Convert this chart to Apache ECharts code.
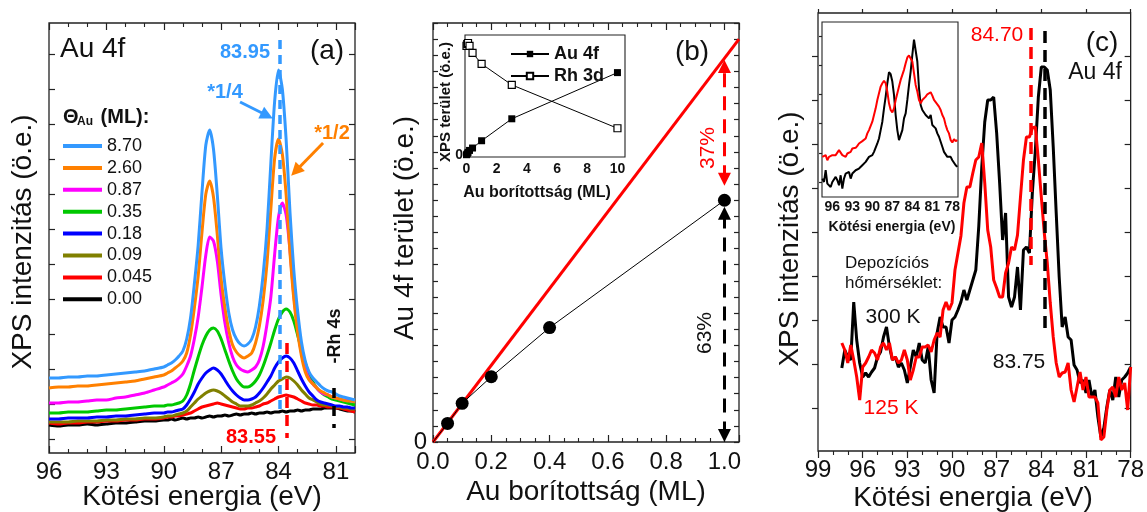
<!DOCTYPE html>
<html>
<head>
<meta charset="utf-8">
<script src="https://cdn.jsdelivr.net/npm/echarts@6/dist/echarts.min.js"></script>
<style>
  html, body { margin: 0; padding: 0; background: #fff; }
  #chart { width: 1147px; height: 512px; }
</style>
</head>
<body>
<div id="chart"></div>
<script>
// ---------- (a) Au 4f spectra for increasing Au coverage ----------
const energyA = [96,95.5,95,94.5,94,93.5,93,92.5,92,91.5,91,90.5,90,
  89.8,89.6,89.4,89.2,89,88.8,88.6,88.4,88.2,88,87.8,87.6,87.4,87.2,87,
  86.8,86.6,86.4,86.2,86,85.8,85.6,85.4,85.2,85,84.8,84.6,84.4,84.2,84,
  83.8,83.6,83.4,83.2,83,82.8,82.6,82.4,82.2,82,81.8,81.6,81.4,81.2,81,
  80.8,80.6,80.4,80.2,80];
const coverageLabels = ['8.70', '2.60', '0.87', '0.35', '0.18', '0.09', '0.045', '0.00'];
const coverageColors = ['#3399ff', '#ff8000', '#ff00ff', '#00c800', '#0000ff', '#808000', '#ff0000', '#000000'];
const spec870 = [75,75,76,76,77,77,78,79,80,81,82,84,86,
  88,90,93,97,102,114,135,169,208,261,308,323,304,258,204,
  168,140,123,114,109,107,109,114,126,147,179,224,290,352,383,
  364,313,241,183,142,111,92,81,75,71,67,64,62,61,59,57,56,55,54,53];
const spec260 = [65,66,66,67,67,68,69,70,71,72,74,76,78,
  80,82,85,88,92,100,118,145,177,221,259,272,256,218,174,
  145,123,108,101,97,95,97,100,110,127,153,190,244,295,314,
  299,258,200,154,121,97,81,73,69,65,62,60,58,56,55,54,53,52,52,51];
const spec087 = [50,50,51,51,52,53,53,55,56,58,60,63,66,
  68,70,72,75,79,87,97,114,136,166,198,216,212,192,158,
  130,110,96,88,84,82,81,83,86,93,107,129,156,199,236,
  250,238,203,158,125,100,84,74,69,65,61,59,58,56,55,54,53,53,52,52];
const spec035 = [40,40,41,41,41,42,43,43,44,45,46,47,47,
  48,48,49,50,52,58,69,83,96,108,117,123,125,122,114,
  103,92,82,74,69,66,66,68,72,78,87,98,110,123,134,
  141,144,141,132,118,103,90,79,71,65,61,58,56,54,53,52,51,50,49,48];
const spec018 = [34,34,35,35,35,36,36,37,37,38,39,40,40,
  41,41,42,43,44,48,54,61,69,75,80,83,85,83,79,
  73,67,62,58,55,53,53,54,56,60,65,71,77,85,91,
  95,97,95,90,82,74,67,61,57,53,51,50,49,48,47,47,46,46,45,45];
const spec009 = [31,31,31,32,32,32,33,33,34,34,35,35,36,
  37,37,38,39,40,42,46,50,54,57,60,62,63,62,60,
  57,54,51,49,47,47,47,48,50,52,55,59,64,68,72,
  74,76,75,72,68,63,59,55,53,51,49,48,48,47,46,46,45,45,44,44];
const spec0045 = [30,29,30,30,31,31,32,32,33,33,34,34,35,
  36,36,37,37,38,39,40,42,44,46,47,48,49,50,49,
  48,47,46,45,44,44,45,45,46,47,49,50,52,54,56,
  57,58,57,56,54,52,50,49,48,48,47,47,46,46,45,45,44,43,42,41];
const spec000 = [28,27,28,28,29,28,29,30,30,31,32,32,33,
  33,34,33,34,35,34,35,35,36,35,36,37,36,37,37,
  38,37,38,39,38,39,39,40,39,40,40,41,40,41,41,
  42,41,42,42,43,42,43,43,44,44,44,45,45,45,45,44,43,42,42,41];
const spectraA = [spec870, spec260, spec087, spec035, spec018, spec009, spec0045, spec000];

// ---------- (b) Au 4f area vs. coverage ----------
const coverageB = [0, 0.05, 0.1, 0.2, 0.4, 1.0];
const au4fArea = [0, 1.15, 2.4, 4.05, 7.1, 15.0];
const linearCoverage = [0, 1.05];
const linearArea = [0, 25.0];
const insetCoverage = [0, 0.05, 0.1, 0.2, 0.4, 1, 3, 10];
const insetAu4f = [0.0, 0.1, 0.23, 0.43, 0.67, 1.4, 3.6, 8.23];
const insetRh3d = [10.9, 11.1, 11.2, 10.9, 10.2, 9.1, 7.0, 2.65];
const insetTicksB = [0, 2, 4, 6, 8, 10];

// ---------- (c) deposition temperature ----------
const energyC = [97.4,97.2,97,96.8,96.6,96.4,96.2,96,95.8,95.6,95.4,95.2,95,94.8,94.6,94.4,94.2,94,
  93.8,93.6,93.4,93.2,93,92.8,92.6,92.4,92.2,92,91.8,91.6,91.4,91.2,91,90.8,90.6,90.4,90.2,90,
  89.8,89.6,89.4,89.2,89,88.8,88.6,88.4,88.2,88,87.8,87.6,87.4,87.2,87,86.8,86.6,86.4,86.2,86,
  85.8,85.6,85.4,85.2,85,84.8,84.6,84.4,84.2,84,83.8,83.6,83.4,83.2,83,82.8,82.6,82.4,82.2,82,
  81.8,81.6,81.4,81.2,81,80.8,80.6,80.4,80.2,80,79.8,79.6,79.4,79.2,79,78.8,78.6,78.4,78.2,78];
const spec300K = [83,101,94,91,149,111,88,74,78,74,79,83,94,99,114,124,104,91,94,84,
  88,81,68,84,101,94,108,91,88,104,71,58,118,134,124,124,108,131,134,141,
  149,161,151,161,171,181,225,284,329,351,351,354,318,268,211,238,154,144,154,184,
  141,201,204,198,259,301,354,384,384,381,361,304,238,174,124,134,114,111,86,81,
  68,71,58,71,54,61,34,14,23,44,61,51,74,54,71,74,78,84];
const spec125K = [108,101,88,106,91,74,51,84,88,94,101,98,91,104,108,101,108,91,94,88,
  91,101,91,71,81,94,94,104,104,106,99,111,118,114,141,149,141,148,181,198,
  215,248,264,264,278,291,294,308,268,221,204,171,163,154,154,178,188,204,201,216,
  254,291,314,314,323,324,291,254,218,188,148,114,88,74,78,79,88,61,49,64,
  79,61,74,54,54,54,48,11,14,41,61,64,54,74,61,68,41,84];
const tickMarksCY = [43, 87, 131, 175, 219, 263, 307, 351, 395];
const tickMarksAY = [14, 49, 84, 119, 154, 189, 224, 259, 294, 329, 364, 399];

// inset of (c): wide-range spectra
const energyInset = [97.5,97.25,97,96.75,96.5,96.25,96,95.75,95.5,95.25,95,94.75,94.5,94.25,94,93.75,
  93.5,93.25,93,92.75,92.5,92.25,92,91.75,91.5,91.25,91,90.75,90.5,90.25,90,89.75,89.5,89.25,89,
  88.75,88.5,88.25,88,87.75,87.5,87.25,87,86.75,86.5,86.25,86,85.75,85.5,85.25,85,84.75,84.5,84.25,
  84,83.75,83.5,83.25,83,82.75,82.5,82.25,82,81.75,81.5,81.25,81,80.75,80.5,80.25,80,79.75,79.5,
  79.25,79,78.75,78.5,78.25,78,77.75,77.5,77.25];
const inset300K = [5.5,4.5,8,4,3.5,3,4.5,4,6,5,3.5,6.5,2.5,5.5,7,6.5,7.5,5.5,7,6.7,
  8,7.5,8.5,9,9.5,9,10.5,10,12,11.5,12.5,13.5,14,16,17.5,20,22.5,26.5,30,34,
  37.3,36.7,34.5,30.5,24.5,20,17,16.7,20,23.5,25,29,33.5,37.5,42.5,47,47,40.5,32.5,27.5,
  26,25.5,24.5,25,23.5,24.5,21.5,21,20.5,19,18,16.5,15,13.5,14,12,11.5,12,11,10.5,9.5,9];
const inset125K = [12,11.5,12.5,11,12,11.5,12.5,12,12.5,13,14,13.5,12.5,12.7,12,13,13.3,13.5,14.5,14,
  14.7,15.3,16,16.5,16.7,17,17.5,19,20,20.5,22.5,24.5,26.5,29,31,33,34,34.7,34,31.5,
  28,26,25.3,26.5,29,31,33,35,36.5,38,40,41.7,42.3,42,40.5,37,33.5,31.5,29,28,
  29,29.5,30,30.7,31,31.3,30.3,29,29,27.7,27,26,24.5,23.5,21.5,20,19,17,16.3,17.3,16.7,17];
const insetTicksC = [-96, -93, -90, -87, -84, -81, -78];
const insetTickMarksCY = [4.5, 13.2, 21.9, 30.6, 39.3, 48];

// ---------- helpers ----------
const FONT = '"Liberation Sans", Arial, Helvetica, sans-serif';
const INK = '#111';
const pairs = (xs, ys, neg) => xs.map((x, i) => [neg ? -x : x, ys[i]]);
const absLabel = v => String(Math.round(Math.abs(v)));

function axis(o) {
  const a = {
    type: 'value',
    gridIndex: o.grid,
    position: o.position,
    min: o.min, max: o.max,
    splitLine: { show: false },
    axisLine: { show: false, onZero: false },
    axisTick: {
      show: o.tick !== false,
      inside: o.inside !== false,
      length: o.tickLen || 6,
      lineStyle: { color: '#222', width: 1.2 }
    },
    minorTick: {
      show: !!o.minor,
      splitNumber: o.minor || 5,
      length: o.minorLen || 3,
      lineStyle: { color: '#222', width: 1.1 }
    },
    axisLabel: {
      show: !!o.label,
      fontFamily: FONT,
      fontSize: o.labelSize || 24,
      fontWeight: o.bold ? 'bold' : 'normal',
      color: INK,
      margin: o.margin != null ? o.margin : 7,
      formatter: o.formatter
    }
  };
  if (o.interval != null) a.interval = o.interval;
  if (o.tickValues) a.axisTick.customValues = o.tickValues;
  if (o.labelValues) a.axisLabel.customValues = o.labelValues;
  return a;
}

function text(t, x, y, size, opts) {
  opts = opts || {};
  return {
    type: 'text', x: x, y: y, rotation: opts.rot || 0, z: 50,
    style: {
      text: t, fill: opts.color || INK,
      font: (opts.bold ? 'bold ' : '') + size + 'px ' + FONT,
      align: opts.align || 'center', verticalAlign: 'middle'
    }
  };
}

const R90 = Math.PI / 2;

// ---------- series ----------
const series = [];
// (a) spectra, lowest coverage drawn first
for (let i = spectraA.length - 1; i >= 0; i--) {
  series.push({
    name: coverageLabels[i], type: 'line',
    xAxisIndex: 0, yAxisIndex: 0,
    data: pairs(energyA, spectraA[i], true),
    symbol: 'none', smooth: 0.25,
    lineStyle: { color: coverageColors[i], width: 3 },
    itemStyle: { color: coverageColors[i] },
    z: 3
  });
}
const sA = name => series.find(s => s.name === name);
sA('8.70').markLine = {
  silent: true, animation: false, label: { show: false },
  data: [
    [{ coord: [-83.95, 413], symbol: 'none', lineStyle: { color: '#3399ff', width: 3.5, type: [9, 6] } },
     { coord: [-83.95, 40], symbol: 'none' }],
    [{ coord: [-86.01, 351], symbol: 'none', lineStyle: { color: '#3399ff', width: 3, type: 'solid' } },
     { coord: [-84.6, 337.5], symbol: 'triangle', symbolSize: 13 }]
  ]
};
sA('2.60').markLine = {
  silent: true, animation: false, label: { show: false },
  data: [
    [{ coord: [-81.67, 310], symbol: 'none', lineStyle: { color: '#ff8000', width: 3, type: 'solid' } },
     { coord: [-83.1, 282], symbol: 'triangle', symbolSize: 13 }]
  ]
};
sA('0.045').markLine = {
  silent: true, animation: false, label: { show: false },
  data: [
    [{ coord: [-83.55, 110], symbol: 'none', lineStyle: { color: '#ff0000', width: 3.5, type: [11, 7] } },
     { coord: [-83.55, 15], symbol: 'none' }]
  ]
};
sA('0.00').markLine = {
  silent: true, animation: false, label: { show: false },
  data: [
    [{ coord: [-81.13, 65], symbol: 'none', lineStyle: { color: '#000', width: 3.5, type: [10, 8] } },
     { coord: [-81.13, 25], symbol: 'none' }]
  ]
};

// (b) linear reference and measured area
series.push({
  name: 'lineáris', type: 'line', xAxisIndex: 2, yAxisIndex: 2,
  data: pairs(linearCoverage, linearArea, false),
  symbol: 'none', lineStyle: { color: '#ff0000', width: 3 }, z: 3
});
series.push({
  name: 'Au 4f terület', type: 'line', xAxisIndex: 2, yAxisIndex: 2,
  data: pairs(coverageB, au4fArea, false).map((p, i) => i === 0 ? { value: p, symbolSize: 0 } : p),
  symbol: 'circle', symbolSize: 13, showSymbol: true,
  lineStyle: { color: '#000', width: 1 }, itemStyle: { color: '#000' }, z: 5,
  markLine: {
    silent: true, animation: false, label: { show: false }, z: 4,
    data: [
      [{ coord: [1.0, 16.3], symbol: 'triangle', symbolSize: 13, lineStyle: { color: '#ff0000', width: 3, type: [14, 9] } },
       { coord: [1.0, 23.3], symbol: 'triangle', symbolSize: 13 }],
      [{ coord: [1.0, 0.4], symbol: 'triangle', symbolSize: 13, lineStyle: { color: '#000', width: 3, type: [14, 9] } },
       { coord: [1.0, 14.2], symbol: 'triangle', symbolSize: 13 }]
    ]
  }
});
// (b) inset
series.push({
  name: 'Au 4f', type: 'line', xAxisIndex: 4, yAxisIndex: 4,
  data: pairs(insetCoverage, insetAu4f, false),
  symbol: 'rect', symbolSize: 7, showSymbol: true,
  lineStyle: { color: '#000', width: 1 }, itemStyle: { color: '#000' }, z: 6
});
series.push({
  name: 'Rh 3d', type: 'line', xAxisIndex: 4, yAxisIndex: 4,
  data: pairs(insetCoverage, insetRh3d, false),
  symbol: 'rect', symbolSize: 7, showSymbol: true,
  lineStyle: { color: '#000', width: 1 },
  itemStyle: { color: '#fff', borderColor: '#000', borderWidth: 1.2 }, z: 6
});

// (c) main spectra
series.push({
  name: '300 K', type: 'line', xAxisIndex: 5, yAxisIndex: 5,
  data: pairs(energyC, spec300K, true), symbol: 'none',
  lineStyle: { color: '#000', width: 3 }, z: 3,
  markLine: {
    silent: true, animation: false, label: { show: false },
    data: [
      [{ coord: [-83.75, 420], symbol: 'none', lineStyle: { color: '#000', width: 3.5, type: [12, 7] } },
       { coord: [-83.75, 123], symbol: 'none' }]
    ]
  }
});
series.push({
  name: '125 K', type: 'line', xAxisIndex: 5, yAxisIndex: 5,
  data: pairs(energyC, spec125K, true), symbol: 'none',
  lineStyle: { color: '#ff0000', width: 3 }, z: 4,
  markLine: {
    silent: true, animation: false, label: { show: false },
    data: [
      [{ coord: [-84.70, 423], symbol: 'none', lineStyle: { color: '#ff0000', width: 3.5, type: [12, 7] } },
       { coord: [-84.70, 186], symbol: 'none' }]
    ]
  }
});
// (c) inset
series.push({
  name: '300 K (széles)', type: 'line', xAxisIndex: 7, yAxisIndex: 7,
  data: pairs(energyInset, inset300K, true), symbol: 'none',
  lineStyle: { color: '#000', width: 2 }, z: 6
});
series.push({
  name: '125 K (széles)', type: 'line', xAxisIndex: 7, yAxisIndex: 7,
  data: pairs(energyInset, inset125K, true), symbol: 'none',
  lineStyle: { color: '#ff0000', width: 2 }, z: 6
});

// ---------- option ----------
const option = {
  animation: false,
  backgroundColor: '#fff',
  textStyle: { fontFamily: FONT },
  grid: [
    { left: 49, top: 23, width: 306, height: 430, show: true, borderColor: '#222', borderWidth: 1.3, backgroundColor: 'transparent' },
    { left: 433, top: 23, width: 306, height: 419, show: true, borderColor: '#222', borderWidth: 1.3, backgroundColor: 'transparent' },
    { left: 465, top: 35, width: 160, height: 122, show: true, borderColor: '#222', borderWidth: 1.1, backgroundColor: '#fff', z: 1 },
    { left: 818, top: 13, width: 313, height: 438, show: true, borderColor: '#222', borderWidth: 1.3, backgroundColor: 'transparent' },
    { left: 822, top: 22, width: 136, height: 175, show: true, borderColor: '#222', borderWidth: 1.1, backgroundColor: '#fff', z: 1 }
  ],
  xAxis: [
    axis({ grid: 0, min: -96, max: -80, interval: 3, minor: 3, tickLen: 7, minorLen: 4, label: true, formatter: absLabel }),
    axis({ grid: 0, position: 'top', min: -96, max: -80, interval: 3, minor: 3, tickLen: 7, minorLen: 4 }),
    axis({ grid: 1, min: 0, max: 1.05, interval: 0.2, minor: 4, tickLen: 7, minorLen: 4, label: true, margin: 8, formatter: v => v.toFixed(1) }),
    axis({ grid: 1, position: 'top', min: 0, max: 1.05, interval: 0.2, minor: 4, tickLen: 7, minorLen: 4 }),
    axis({ grid: 2, min: -0.1, max: 10.5, tickLen: 3, tickValues: insetTicksB, labelValues: insetTicksB, label: true, labelSize: 14, bold: true, margin: 5, formatter: v => String(v) }),
    axis({ grid: 3, min: -99, max: -78, interval: 3, minor: 3, inside: false, tickLen: 7, minorLen: 4, label: true, formatter: absLabel }),
    axis({ grid: 3, position: 'top', min: -99, max: -78, interval: 3, inside: false, tickLen: 4 }),
    axis({ grid: 4, min: -97.55, max: -77.15, tickLen: 3, tickValues: insetTicksC, labelValues: insetTicksC, label: true, labelSize: 14, bold: true, margin: 3, formatter: absLabel })
  ],
  yAxis: [
    axis({ grid: 0, min: 0, max: 430, tickValues: tickMarksAY, tickLen: 6 }),
    axis({ grid: 0, position: 'right', min: 0, max: 430, tickValues: tickMarksAY, tickLen: 6 }),
    axis({ grid: 1, min: 0, max: 26, interval: 1, tickLen: 5, label: true, margin: 6, labelValues: [0], formatter: v => (v === 0 ? '0' : '') }),
    axis({ grid: 1, position: 'right', min: 0, max: 26, interval: 1, tickLen: 5 }),
    axis({ grid: 2, min: -0.23, max: 12, tick: false, label: true, labelSize: 14, bold: true, margin: 2, labelValues: [0], formatter: v => (v === 0 ? '0' : '') }),
    axis({ grid: 3, min: 0, max: 438, tickValues: tickMarksCY, inside: false, tickLen: 6 }),
    axis({ grid: 3, position: 'right', min: 0, max: 438, tickValues: tickMarksCY, tickLen: 6 }),
    axis({ grid: 4, min: 0, max: 52.3, tickValues: insetTickMarksCY, inside: false, tickLen: 3 })
  ],
  legend: [
    {
      data: coverageLabels, orient: 'vertical', left: 63, top: 137, padding: 0,
      icon: 'rect', itemWidth: 39, itemHeight: 4, itemGap: 3.9, selectedMode: false,
      textStyle: { fontFamily: FONT, fontSize: 18, color: INK, lineHeight: 18 }
    },
    {
      data: ['Au 4f', 'Rh 3d'], orient: 'vertical', left: 510, top: 45, padding: 0,
      itemWidth: 38, itemHeight: 8, itemGap: 4, selectedMode: false,
      textStyle: { fontFamily: FONT, fontSize: 18, fontWeight: 'bold', color: INK, lineHeight: 18 }
    }
  ],
  graphic: [
    // axis titles
    text('Kötési energia (eV)', 202, 497, 28),
    text('XPS intenzitás (ö.e.)', 23, 242, 28, { rot: R90 }),
    text('Au borítottság (ML)', 586, 492, 28),
    text('Au 4f terület (ö.e.)', 405, 228, 28, { rot: R90 }),
    text('Kötési energia (eV)', 973, 498, 28),
    text('XPS intenzitás (ö.e.)', 790, 239, 28, { rot: R90 }),
    // (a)
    text('Au 4f', 60, 49, 28, { align: 'left' }),
    text('(a)', 327, 51, 28),
    text('83.95', 245, 52, 20, { bold: true, color: '#3399ff' }),
    text('*1/4', 225, 92, 20, { bold: true, color: '#3399ff' }),
    text('*1/2', 332, 133, 20, { bold: true, color: '#ff8000' }),
    text('83.55', 251, 437, 20, { bold: true, color: '#ff0000' }),
    text('-Rh 4s', 335, 336, 18, { bold: true, rot: R90 }),
    text('Θ', 63, 117, 20, { bold: true, align: 'left' }),
    text('Au', 77, 122, 12, { bold: true, align: 'left' }),
    text(' (ML):', 95, 117, 20, { bold: true, align: 'left' }),
    // (b)
    text('(b)', 692, 52, 28),
    text('37%', 708, 148, 21, { rot: R90, color: '#ff0000' }),
    text('63%', 705, 333, 21, { rot: R90 }),
    text('Au borítottság (ML)', 537, 193, 16, { bold: true }),
    text('XPS terület (ö.e.)', 446, 102, 15, { bold: true, rot: R90 }),
    // (c)
    text('(c)', 1102, 43, 28),
    text('Au 4f', 1095, 73, 23),
    text('84.70', 997, 35, 21, { color: '#ff0000' }),
    text('Depozíciós', 845, 263, 17, { align: 'left' }),
    text('hőmérséklet:', 845, 283, 17, { align: 'left' }),
    text('300 K', 893, 317, 21),
    text('125 K', 891, 408, 21, { color: '#ff0000' }),
    text('83.75', 1019, 362, 21),
    text('Kötési energia (eV)', 892, 227, 14, { bold: true })
  ],
  series: series
};

const chart = echarts.init(document.getElementById('chart'), null, { renderer: 'canvas' });
chart.setOption(option);
</script>
</body>
</html>
